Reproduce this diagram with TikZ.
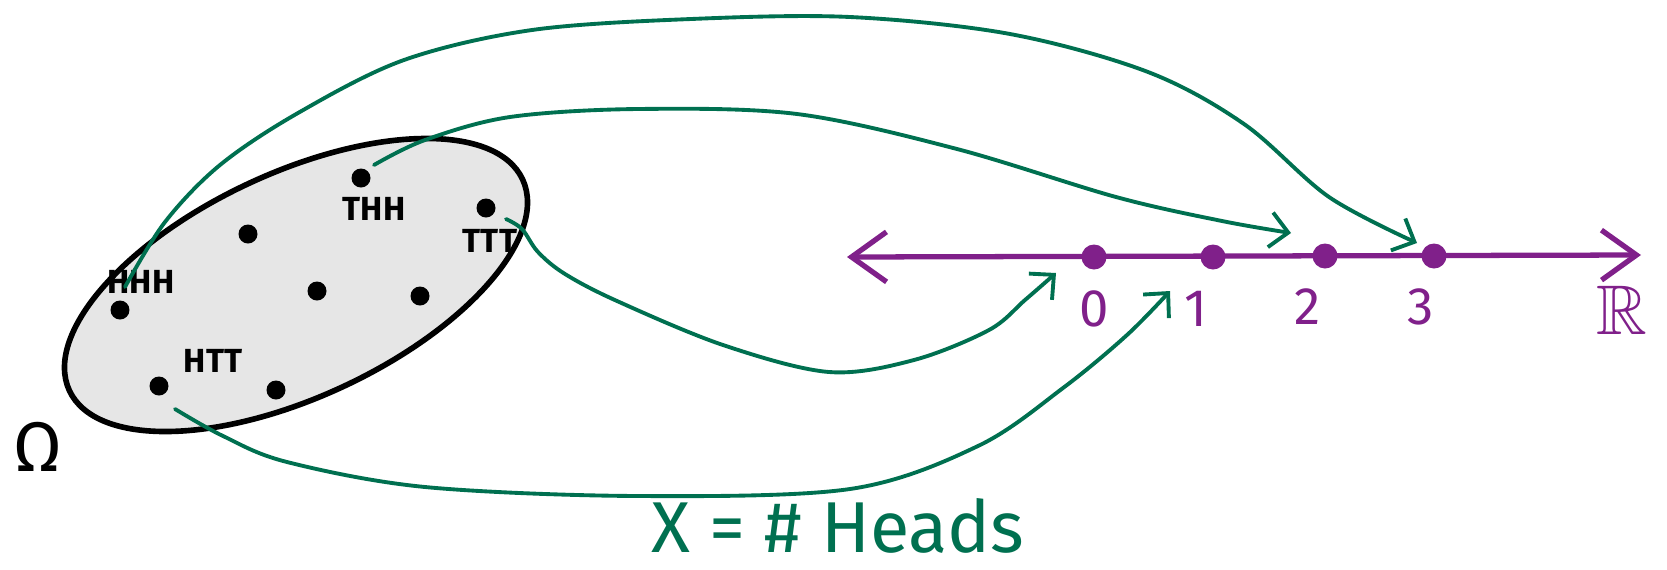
\documentclass[tikz,border=0pt]{standalone}
\usepackage{amssymb}
\usepackage{fontspec}
\setmainfont{Fira Sans}
\usetikzlibrary{arrows.meta}
\definecolor{grn}{HTML}{007050}
\definecolor{pur}{HTML}{80208A}
\definecolor{shade}{HTML}{E6E6E6}
\begin{document}
\begin{tikzpicture}[x=0.02cm,y=-0.02cm,line cap=round,line join=round,
  sdot/.style={circle,fill=black,inner sep=0pt,minimum size=0.38cm},
  pdot/.style={circle,fill=pur,inner sep=0pt,minimum size=0.5cm},
  lbl/.style={inner sep=0pt,font=\fontsize{19}{22}\selectfont\bfseries},
  num/.style={inner sep=0pt,text=pur,font=\fontsize{30}{34}\selectfont},
  conn/.style={draw=grn,line width=2.2pt,-{Straight Barb[length=0.36cm,width=0.7cm]}},
  pline/.style={draw=pur,line width=3pt,{Straight Barb[length=0.7cm,width=1.0cm]}-{Straight Barb[length=0.7cm,width=1.0cm]}}]
\useasboundingbox (0,0) rectangle (1667,569);
% sample space
\draw[line width=3.2pt,fill=shade,rotate around={25:(296,285)}] (296,285) ellipse [x radius=250,y radius=112];
\node[sdot] (dthh) at (361,178) {};
\node[sdot] (dttt) at (486,208) {};
\node[sdot] (da) at (248,234) {};
\node[sdot] (dhhh) at (120,310) {};
\node[sdot] (db) at (317,291) {};
\node[sdot] (dc) at (420,296) {};
\node[sdot] (dhtt) at (159,386) {};
\node[sdot] (dd) at (276,390) {};
\node[lbl] (lthh) at (374,209) {THH};
\node[lbl] (lttt) at (490,241) {TTT};
\node[lbl] (lhhh) at (141,282) {HHH};
\node[lbl] (lhtt) at (213,361) {HTT};
\node[inner sep=0pt,font=\fontsize{40}{46}\selectfont] (omega) at (38,447) {Ω};
% real line
\coordinate (lend) at (847,257);
\coordinate (rend) at (1641,255);
\draw[pline] (lend) -- (rend);
\node[pdot] (p0) at (1094,257) {};
\node[pdot] (p1) at (1213,257) {};
\node[pdot] (p2) at (1325,256) {};
\node[pdot] (p3) at (1434,256) {};
\node[num] (n0) at (1094,309) {0};
\node[num] (n1) at (1196,309) {1};
\node[num] (n2) at (1308,307) {2};
\node[num] (n3) at (1421,307) {3};
\node[inner sep=0pt,text=pur,font=\fontsize{40}{46}\selectfont] (nR) at (1622,310) {$\mathbb{R}$};
% mapping arrows
\coordinate (s1) at (125,287);
\coordinate (e3) at (1417,243);
\draw[conn] plot[smooth,tension=0.55] coordinates {(s1) (165,222) (220,165) (298,113) (404,60) (532,30) (691,19) (850,17) (1010,34) (1148,72) (1244,124) (1329,197) (e3)};
\coordinate (s2) at (374,165);
\coordinate (e2) at (1291,233);
\draw[conn] plot[smooth,tension=0.55] coordinates {(s2) (425,140) (510,117) (638,109) (797,114) (957,149) (1116,197) (1222,221) (e2)};
\coordinate (s3) at (506,219);
\coordinate (e0) at (1056,273);
\draw[conn] plot[smooth,tension=0.55] coordinates {(s3) (522,229) (538,252) (565,274) (617,301) (723,345) (829,372) (914,360) (989,330) (1025,300) (e0)};
\coordinate (s4) at (175,409);
\coordinate (e1) at (1170,291);
\draw[conn] plot[smooth,tension=0.55] coordinates {(s4) (223,436) (287,462) (425,487) (638,496) (850,489) (978,446) (1063,388) (1127,335) (e1)};
\node[inner sep=0pt,anchor=base,text=grn,font=\fontsize{41}{46}\selectfont] (xlab) at (838,552) {X = \# Heads};
\end{tikzpicture}
\end{document}
